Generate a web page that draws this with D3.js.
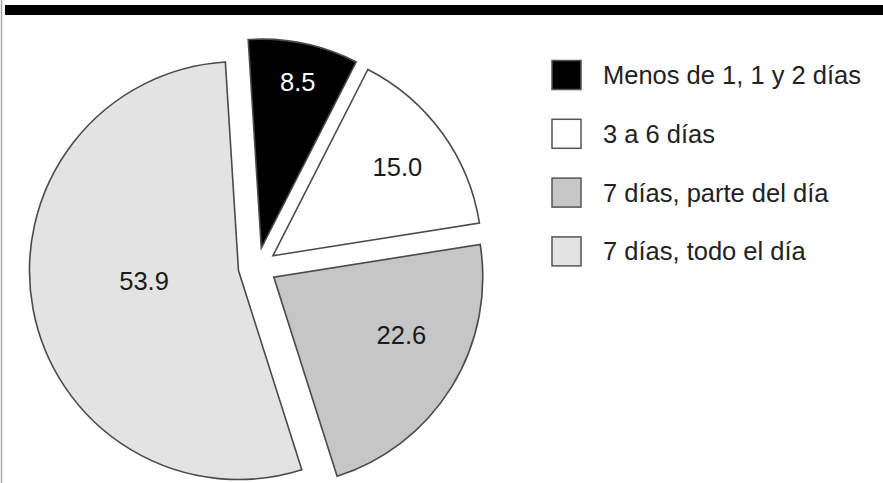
<!DOCTYPE html>
<html>
<head>
<meta charset="utf-8">
<script src="https://cdn.jsdelivr.net/npm/d3@7"></script>
<style>
  html, body { margin: 0; padding: 0; background: #fff; }
  svg { display: block; }
  text { font-family: "Liberation Sans", Arial, Helvetica, sans-serif; }
</style>
</head>
<body>
<div id="chart"></div>
<script>
// ---- data ----
const categories = ["Menos de 1, 1 y 2 días", "3 a 6 días", "7 días, parte del día", "7 días, todo el día"];
const values = [8.5, 15.0, 22.6, 53.9];
const valueLabels = ["8.5", "15.0", "22.6", "53.9"];

// ---- styling / layout ----
const fills = ["#000000", "#ffffff", "#c6c6c6", "#e3e3e3"];
const labelColors = ["#ffffff", "#1a1a1a", "#1a1a1a", "#1a1a1a"];
// label placement relative to each slice tip: [distance, angle shift in degrees]
const labelPlacement = [[170, 0.7], [153, 0.4], [140, -7.4], [95, 4.3]];

const W = 883, H = 483;
const cx = 257.4, cy = 267, R = 209, explode = 19.25;
const startDeg = -3.6;

const svg = d3.select("#chart").append("svg")
  .attr("width", W).attr("height", H);

// frame details
svg.append("rect").attr("x", 5).attr("y", 5).attr("width", W - 5).attr("height", 10).attr("fill", "#000");
svg.append("line").attr("x1", 1.5).attr("x2", 1.5).attr("y1", 0).attr("y2", H)
  .attr("stroke", "#a8a8a8").attr("stroke-width", 1.5);

const toRad = d => d * Math.PI / 180;
const pie = d3.pie().sort(null).value(d => d)
  .startAngle(toRad(startDeg)).endAngle(toRad(startDeg) + 2 * Math.PI);
const arcs = pie(values);
const arc = d3.arc().innerRadius(0).outerRadius(R);

const g = svg.append("g").attr("transform", `translate(${cx},${cy})`);

const slice = g.selectAll("g.slice").data(arcs).enter().append("g")
  .attr("class", "slice")
  .attr("transform", d => {
    const m = (d.startAngle + d.endAngle) / 2;
    return `translate(${explode * Math.sin(m)},${-explode * Math.cos(m)})`;
  });

slice.append("path")
  .attr("d", arc)
  .attr("fill", (d, i) => fills[i])
  .attr("stroke", "#4a4a4a")
  .attr("stroke-width", 1.6)
  .attr("stroke-linejoin", "miter");

slice.append("text")
  .attr("x", (d, i) => {
    const m = (d.startAngle + d.endAngle) / 2 + toRad(labelPlacement[i][1]);
    return labelPlacement[i][0] * Math.sin(m);
  })
  .attr("y", (d, i) => {
    const m = (d.startAngle + d.endAngle) / 2 + toRad(labelPlacement[i][1]);
    return -labelPlacement[i][0] * Math.cos(m);
  })
  .attr("dy", "0.35em")
  .attr("text-anchor", "middle")
  .attr("font-size", 25.5)
  .attr("fill", (d, i) => labelColors[i])
  .text((d, i) => valueLabels[i]);

// legend
const legendY = d3.scalePoint().domain(categories).range([75, 251.4]);
const legend = svg.append("g");
const item = legend.selectAll("g").data(categories).enter().append("g")
  .attr("transform", d => `translate(552,${legendY(d)})`);
item.append("rect")
  .attr("x", 0).attr("y", -14.5).attr("width", 29).attr("height", 29)
  .attr("fill", (d, i) => fills[i])
  .attr("stroke", "#555").attr("stroke-width", 1.5);
item.append("text")
  .attr("x", 51).attr("y", 0).attr("dy", "0.35em")
  .attr("font-size", 25.5).attr("fill", "#222")
  .text(d => d);
</script>
</body>
</html>
